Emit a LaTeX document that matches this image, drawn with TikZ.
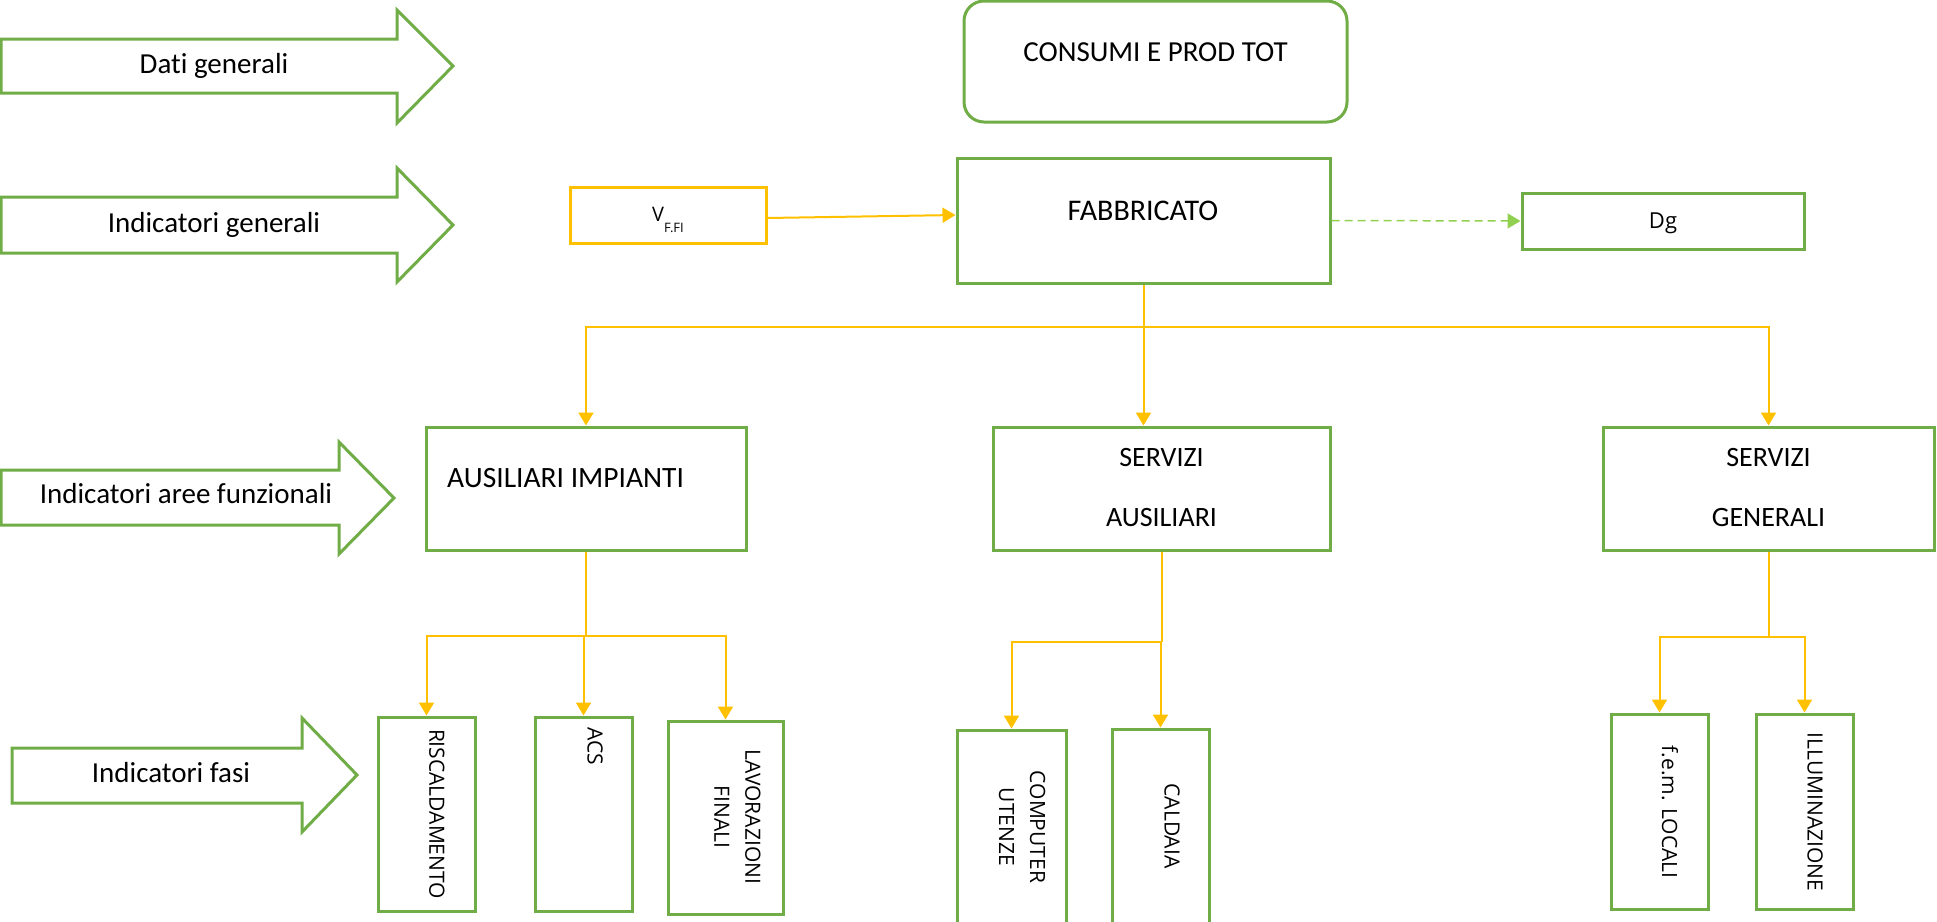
\documentclass[tikz,border=0pt]{standalone}
\usepackage{fontspec}
\setmainfont{Carlito}[Ligatures=NoCommon]
\newfontfamily\osans{Open Sans}
\usetikzlibrary{arrows.meta}
\definecolor{gborder}{HTML}{70AD47}
\definecolor{ylw}{HTML}{FFC000}
\definecolor{lgreen}{HTML}{92D050}
\begin{document}
\begin{tikzpicture}[x=1pt,y=-1pt,
  box/.style={draw=gborder, line width=3pt, rectangle, inner sep=0pt},
  blk/.style={draw=gborder, line width=3pt, line join=miter, fill=white},
  conn/.style={draw=ylw, line width=2pt},
  tip/.style={-{Triangle[length=13pt,width=15pt]}},
  lbl/.style={font=\fontsize{29}{35}\selectfont, inner sep=0pt, anchor=base},
  big/.style={font=\fontsize{28}{34}\selectfont, inner sep=0pt, anchor=base},
  two/.style={font=\fontsize{28}{60}\selectfont, inner sep=0pt, align=center},
  vtext/.style={font=\osans\fontsize{21}{31}\selectfont, rotate=-90, align=center, inner sep=0pt},
]
\useasboundingbox (0,0) rectangle (1937,921);

% block arrows
\draw[blk] (1,39) -- (397,39) -- (397,10) -- (453,66) -- (397,123) -- (397,93) -- (1,93) -- cycle;
\node[lbl] (t1) at (214,73) {Dati generali};
\draw[blk] (1,197) -- (397,197) -- (397,168) -- (453,225) -- (397,282) -- (397,253) -- (1,253) -- cycle;
\node[lbl] (t2) at (214,232) {Indicatori generali};
\draw[blk] (1,470) -- (339,470) -- (339,442) -- (394,498) -- (339,554) -- (339,525) -- (1,525) -- cycle;
\node[lbl] (t3) at (186,503) {Indicatori aree funzionali};
\draw[blk] (12,748) -- (302,748) -- (302,718) -- (357,775) -- (302,832) -- (302,803) -- (12,803) -- cycle;
\node[lbl] (t4) at (171,782) {Indicatori fasi};

% top boxes
\node[box, rounded corners=20pt, minimum width=383pt, minimum height=121pt] (cons) at (1155.5,61.5) {};
\node[big, font=\fontsize{29}{34}\selectfont] (tcons) at (1155.5,61) {CONSUMI E PROD TOT};
\node[box, minimum width=373pt, minimum height=125pt] (fab) at (1143.5,220.5) {};
\node[big, font=\fontsize{30}{34}\selectfont] (tfab) at (1143,220) {FABBRICATO};
\node[box, draw=ylw, minimum width=196pt, minimum height=56pt] (vff) at (668,215) {};
\node[inner sep=0pt, anchor=base] (tvff) at (668,221) {\osans\fontsize{20}{24}\selectfont V\raisebox{-11pt}{\fontsize{13}{14}\selectfont F.FI}};
\node[box, minimum width=282pt, minimum height=56pt] (dg) at (1663,221) {};
\node[inner sep=0pt, anchor=base, font=\osans\fontsize{22}{26}\selectfont] (tdg) at (1663,228) {Dg};

% level 2
\node[box, minimum width=320pt, minimum height=123pt] (ausimp) at (586,488.5) {};
\node[big, anchor=base west, font=\fontsize{29.5}{34}\selectfont] (tausimp) at (447,487) {AUSILIARI IMPIANTI};
\node[box, minimum width=337pt, minimum height=123pt] (servaus) at (1161.5,488.5) {};
\node[two] (tservaus) at (1161.5,488) {SERVIZI\\AUSILIARI};
\node[box, minimum width=331pt, minimum height=123pt] (servgen) at (1768.5,488.5) {};
\node[two] (tservgen) at (1768.5,488) {SERVIZI\\GENERALI};

% level 3
\node[box, minimum width=97pt, minimum height=194pt] (risc) at (426.5,814) {};
\node[vtext] (trisc) at (437,814) {RISCALDAMENTO};
\node[box, minimum width=97pt, minimum height=194pt] (acs) at (583.5,814) {};
\node[vtext] (tacs) at (595,746) {ACS};
\node[box, minimum width=115pt, minimum height=193pt] (lav) at (725.5,817.5) {};
\node[vtext] (tlav) at (737.5,817) {LAVORAZIONI\\FINALI};
\node[box, minimum width=109pt, minimum height=230pt] (comp) at (1011.5,845) {};
\node[vtext] (tcomp) at (1022,827) {COMPUTER\\UTENZE};
\node[box, minimum width=97pt, minimum height=231pt] (cald) at (1160.5,844.5) {};
\node[vtext] (tcald) at (1172,826) {CALDAIA};
\node[box, minimum width=97pt, minimum height=195pt] (fem) at (1659.5,811.5) {};
\node[vtext] (tfem) at (1670,812) {f.e.m. LOCALI};
\node[box, minimum width=97pt, minimum height=195pt] (illum) at (1804.5,811.5) {};
\node[vtext] (tillum) at (1815,812) {ILLUMINAZIONE};

% connectors
\draw[conn,tip] ([yshift=-3pt]vff.east) -- ([yshift=5.5pt]fab.west);
\draw[draw=lgreen, line width=1.5pt, dash pattern=on 8pt off 5pt, -{Triangle[length=13pt,width=15pt]}] (fab.east) -- (dg.west);

\coordinate (j1) at ([yshift=-42pt]fab.south);
\draw[conn] (fab.south) -- (j1);
\draw[conn,tip] (j1) -| (ausimp.north);
\draw[conn,tip] (j1) -| (servgen.north);
\draw[conn,tip] (j1) -- (j1 |- servaus.north);

\coordinate (j2) at ([yshift=-84pt]ausimp.south);
\draw[conn] (ausimp.south) -- (j2);
\draw[conn,tip] (j2) -| (risc.north);
\draw[conn,tip] (j2) -| (lav.north);
\draw[conn,tip] (j2) -| (acs.north);

\coordinate (j3) at ([yshift=-90pt]servaus.south);
\draw[conn] (servaus.south) -- (j3);
\draw[conn,tip] (j3) -| (comp.north);
\draw[conn,tip] (j3) -| (cald.north);

\coordinate (j4) at ([yshift=-85pt]servgen.south);
\draw[conn] (servgen.south) -- (j4);
\draw[conn,tip] (j4) -| (fem.north);
\draw[conn,tip] (j4) -| (illum.north);
\end{tikzpicture}
\end{document}
